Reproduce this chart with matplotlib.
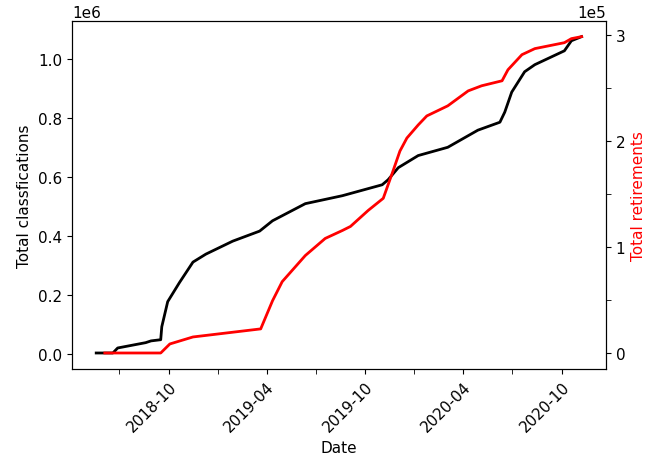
import pandas as pd
import matplotlib
matplotlib.use("Agg")
import matplotlib.pyplot as plt
import matplotlib.dates as mdates
from matplotlib.ticker import MultipleLocator

# total classifications (x1e6)
class_dates = ["2018-05-19", "2018-06-19", "2018-06-28", "2018-08-19", "2018-08-29",
               "2018-09-16", "2018-09-18", "2018-09-29", "2018-10-21", "2018-11-15",
               "2018-12-09", "2019-01-28", "2019-03-19", "2019-04-12", "2019-06-12",
               "2019-08-20", "2019-11-02", "2019-11-13", "2019-12-02", "2020-01-08",
               "2020-03-03", "2020-04-28", "2020-06-08", "2020-06-17", "2020-06-30",
               "2020-07-24", "2020-08-12", "2020-10-06", "2020-10-19", "2020-11-07"]
class_vals = [0.003, 0.003, 0.020, 0.038, 0.044, 0.048, 0.092, 0.177, 0.242, 0.311,
              0.338, 0.382, 0.416, 0.451, 0.509, 0.536, 0.573, 0.590, 0.631, 0.672,
              0.700, 0.758, 0.785, 0.819, 0.887, 0.956, 0.980, 1.027, 1.061, 1.075]

# total retirements (x1e5)
ret_dates = ["2018-06-04", "2018-09-16", "2018-10-03", "2018-11-15", "2019-03-21",
             "2019-04-12", "2019-04-30", "2019-06-12", "2019-07-19", "2019-08-20",
             "2019-09-04", "2019-10-07", "2019-11-04", "2019-11-22", "2019-12-05",
             "2019-12-18", "2020-01-08", "2020-01-24", "2020-03-03", "2020-04-10",
             "2020-05-05", "2020-06-12", "2020-06-23", "2020-07-19", "2020-08-12",
             "2020-10-06", "2020-10-19", "2020-11-07"]
ret_vals = [0, 0, 0.085, 0.151, 0.227, 0.492, 0.672, 0.918, 1.079, 1.154,
            1.192, 1.343, 1.457, 1.712, 1.902, 2.025, 2.148, 2.233, 2.328, 2.469,
            2.517, 2.564, 2.668, 2.810, 2.867, 2.923, 2.961, 2.980]

plt.rcParams["font.size"] = 11

fig = plt.figure(figsize=(6.6, 4.64), dpi=100)
ax = fig.add_axes([0.109, 0.203, 0.809, 0.75])
ax.plot(pd.to_datetime(class_dates), [v * 1e6 for v in class_vals], color="black", lw=2)
ax.set_ylabel("Total classfications")
ax.set_xlabel("Date")
ax.xaxis.set_major_locator(mdates.MonthLocator(bymonth=[4, 10]))
ax.xaxis.set_minor_locator(mdates.MonthLocator(bymonth=[1, 7]))
ax.xaxis.set_major_formatter(mdates.DateFormatter("%Y-%m"))
ax.tick_params(axis="x", which="minor", length=3.5)
plt.setp(ax.get_xticklabels(), rotation=45, ha="right", rotation_mode="anchor")

ax2 = ax.twinx()
ax2.plot(pd.to_datetime(ret_dates), [v * 1e5 for v in ret_vals], color="red", lw=2)
ax2.set_ylabel("Total retirements", color="red")
ax2.yaxis.set_major_locator(MultipleLocator(1e5))
ax2.yaxis.set_minor_locator(MultipleLocator(0.5e5))
ax2.tick_params(axis="y", which="minor", length=3.5)
ax2.ticklabel_format(axis="y", style="sci", scilimits=(0, 0))

fig.savefig("out.png")
